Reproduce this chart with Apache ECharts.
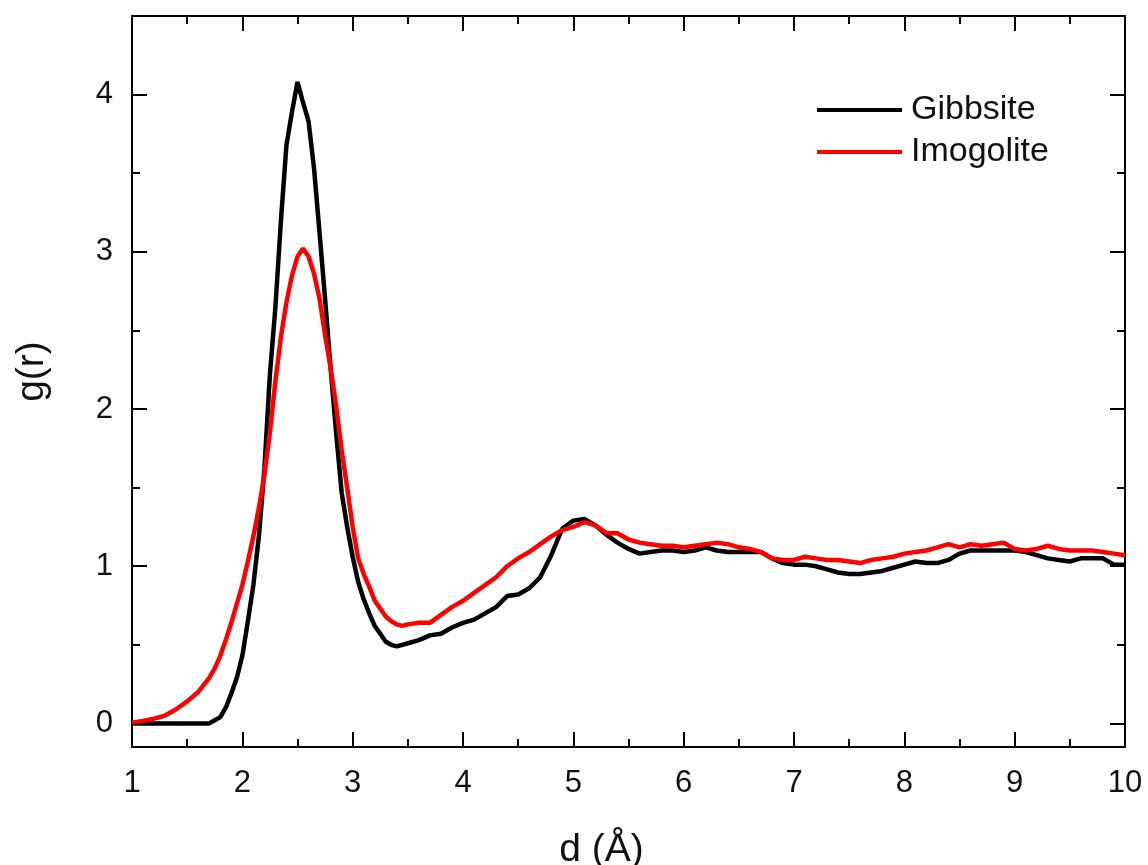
<!DOCTYPE html>
<html>
<head>
<meta charset="utf-8">
<script src="https://cdn.jsdelivr.net/npm/echarts@6/dist/echarts.min.js"></script>
<style>
html,body{margin:0;padding:0;background:#fff;}
#chart{width:1148px;height:865px;}
</style>
</head>
<body>
<div id="chart"></div>
<script>
// Shared x grid (Å)
const dValues = [
  1.0,1.1,1.2,1.3,1.4,1.5,1.6,1.7,1.75,1.8,1.85,1.9,1.95,2.0,2.05,2.1,2.15,2.2,2.25,2.3,2.35,2.4,2.45,2.5,
  2.55,2.6,2.65,2.7,2.75,2.8,2.85,2.9,2.95,3.0,3.05,3.1,3.15,3.2,3.25,3.3,3.35,3.4,3.45,3.5,
  3.6,3.7,3.8,3.9,4.0,4.1,4.2,4.3,4.4,4.5,4.6,4.7,4.8,4.9,5.0,5.1,5.2,5.3,5.4,5.5,5.6,5.7,5.8,5.9,
  6.0,6.1,6.2,6.3,6.4,6.5,6.6,6.7,6.8,6.9,7.0,7.1,7.2,7.3,7.4,7.5,7.6,7.7,7.8,7.9,
  8.0,8.1,8.2,8.3,8.4,8.5,8.6,8.7,8.8,8.9,9.0,9.1,9.2,9.3,9.4,9.5,9.6,9.7,9.8,9.9,10.0
];
const gibbsite = [
  0,0,0,0,0,0,0,0,0.02,0.04,0.10,0.19,0.29,0.43,0.65,0.88,1.19,1.62,2.22,2.65,3.2,3.68,3.89,4.08,
  3.95,3.83,3.53,3.12,2.70,2.26,1.85,1.47,1.25,1.06,0.90,0.79,0.70,0.62,0.57,0.52,0.50,0.49,0.50,0.51,
  0.53,0.56,0.57,0.61,0.64,0.66,0.70,0.74,0.81,0.82,0.86,0.93,1.07,1.24,1.29,1.30,1.26,1.20,1.15,1.11,1.08,1.09,1.10,1.10,
  1.09,1.10,1.12,1.10,1.09,1.09,1.09,1.09,1.05,1.02,1.01,1.01,1.00,0.98,0.96,0.95,0.95,0.96,0.97,0.99,
  1.01,1.03,1.02,1.02,1.04,1.08,1.10,1.10,1.10,1.10,1.10,1.09,1.07,1.05,1.04,1.03,1.05,1.05,1.05,1.01,1.01
];
const imogolite = [
  0.005,0.015,0.03,0.05,0.09,0.14,0.20,0.29,0.35,0.43,0.53,0.64,0.76,0.88,1.03,1.19,1.37,1.58,1.85,2.18,2.46,2.68,2.85,2.97,
  3.02,2.97,2.86,2.70,2.47,2.26,2.02,1.74,1.50,1.25,1.05,0.95,0.87,0.78,0.73,0.68,0.65,0.63,0.62,0.63,
  0.64,0.64,0.69,0.74,0.78,0.83,0.88,0.93,1.00,1.05,1.09,1.14,1.19,1.23,1.25,1.28,1.26,1.21,1.21,1.17,1.15,1.14,1.13,1.13,
  1.12,1.13,1.14,1.15,1.14,1.12,1.11,1.09,1.05,1.04,1.04,1.06,1.05,1.04,1.04,1.03,1.02,1.04,1.05,1.06,
  1.08,1.09,1.10,1.12,1.14,1.12,1.14,1.13,1.14,1.15,1.11,1.10,1.11,1.13,1.11,1.10,1.10,1.10,1.09,1.08,1.07
];
const seriesNames = ['Gibbsite', 'Imogolite'];
const yMajorTicks = [0, 1, 2, 3, 4];
const yMinorTicks = [0.5, 1.5, 2.5, 3.5];

const FONT = '"Liberation Sans", Arial, sans-serif';
const chart = echarts.init(document.getElementById('chart'));

const axisLineStyle = { color: '#000', width: 2 };
const yBase = { type: 'value', min: -0.15, max: 4.5, splitLine: { show: false } };
const xBase = { type: 'value', min: 1, max: 10, interval: 1, splitLine: { show: false } };

const option = {
  backgroundColor: '#fff',
  animation: false,
  grid: { left: 132, right: 23, top: 16, bottom: 118, containLabel: false, outerBoundsMode: 'none' },
  legend: {
    orient: 'vertical',
    left: 812,
    top: 88,
    icon: 'rect',
    itemWidth: 85,
    itemHeight: 4,
    itemGap: 8,
    data: seriesNames,
    textStyle: { fontFamily: FONT, fontSize: 34, color: '#111', padding: [0, 0, 0, 4], lineHeight: 30 }
  },
  xAxis: [
    Object.assign({}, xBase, {
      position: 'bottom',
      name: 'd (Å)',
      nameLocation: 'middle',
      nameGap: 84,
      nameTextStyle: { fontFamily: FONT, fontSize: 39, color: '#111', padding: [0, 54, 0, 0] },
      axisLine: { show: true, onZero: false, lineStyle: axisLineStyle },
      axisTick: { show: true, inside: true, length: 15, lineStyle: axisLineStyle },
      minorTick: { show: true, splitNumber: 2, length: 8, lineStyle: axisLineStyle },
      minorSplitLine: { show: false },
      axisLabel: { fontFamily: FONT, fontSize: 31, color: '#111', margin: 21 }
    }),
    Object.assign({}, xBase, {
      position: 'top',
      axisLine: { show: true, onZero: false, lineStyle: axisLineStyle },
      axisTick: { show: true, inside: true, length: 15, lineStyle: axisLineStyle },
      minorTick: { show: true, splitNumber: 2, length: 8, lineStyle: axisLineStyle },
      axisLabel: { show: false }
    })
  ],
  yAxis: [
    Object.assign({}, yBase, {
      position: 'left',
      name: 'g(r)',
      nameLocation: 'middle',
      nameGap: 80,
      nameRotate: 90,
      nameTextStyle: { fontFamily: FONT, fontSize: 39, color: '#111', padding: [0, 0, 0, 20] },
      axisLine: { show: true, onZero: false, lineStyle: axisLineStyle },
      axisTick: { show: true, inside: true, length: 15, lineStyle: axisLineStyle, customValues: yMajorTicks },
      axisLabel: { fontFamily: FONT, fontSize: 31, color: '#111', margin: 19, customValues: yMajorTicks }
    }),
    Object.assign({}, yBase, {
      position: 'left',
      axisLine: { show: false },
      axisTick: { show: true, inside: true, length: 8, lineStyle: axisLineStyle, customValues: yMinorTicks },
      axisLabel: { show: false }
    }),
    Object.assign({}, yBase, {
      position: 'right',
      axisLine: { show: true, onZero: false, lineStyle: axisLineStyle },
      axisTick: { show: true, inside: true, length: 15, lineStyle: axisLineStyle, customValues: yMajorTicks },
      axisLabel: { show: false }
    }),
    Object.assign({}, yBase, {
      position: 'right',
      axisLine: { show: false },
      axisTick: { show: true, inside: true, length: 8, lineStyle: axisLineStyle, customValues: yMinorTicks },
      axisLabel: { show: false }
    })
  ],
  series: [
    {
      name: seriesNames[0],
      type: 'line',
      xAxisIndex: 0, yAxisIndex: 0,
      showSymbol: false,
      symbol: 'none',
      color: '#000000',
      lineStyle: { color: '#000000', width: 4.5 },
      data: dValues.map((d, i) => [d, gibbsite[i]])
    },
    {
      name: seriesNames[1],
      type: 'line',
      xAxisIndex: 0, yAxisIndex: 0,
      showSymbol: false,
      symbol: 'none',
      color: '#ff0000',
      lineStyle: { color: '#ff0000', width: 4.5 },
      data: dValues.map((d, i) => [d, imogolite[i]])
    }
  ]
};
chart.setOption(option);
</script>
</body>
</html>
